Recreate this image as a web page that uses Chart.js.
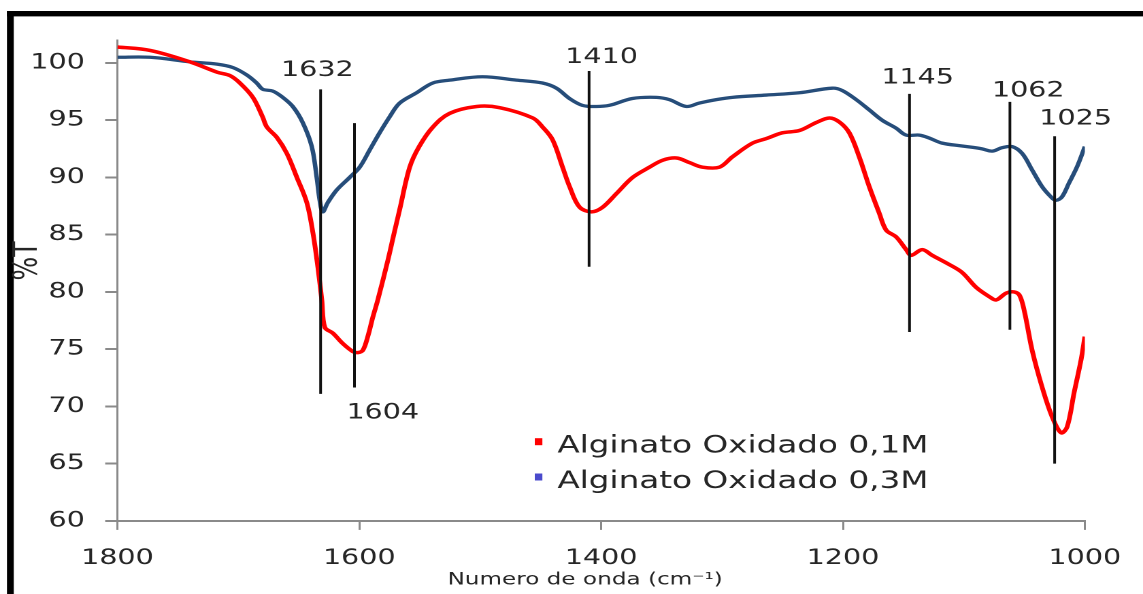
<!DOCTYPE html>
<html>
<head>
<meta charset="utf-8">
<script src="https://cdn.jsdelivr.net/npm/chart.js@4.4.1/dist/chart.umd.min.js"></script>
<style>
  html, body { margin: 0; padding: 0; background: #fff; overflow: hidden; }
  /* the chart is laid out on a narrower canvas and widened to the window */
  #wrap { position: absolute; left: 0; top: 0; width: 840px; height: 594px;
          transform: scaleX(1.360714); transform-origin: 0 0; }
</style>
</head>
<body>
<div id="wrap"><canvas id="c"></canvas></div>
<script>
// FTIR spectra, transmittance (%T) against wavenumber (cm-1)
const seriesNames = ['Alginato Oxidado 0,1M', 'Alginato Oxidado 0,3M'];

const waveRed = [1800, 1773, 1740, 1717.6, 1707, 1698.7, 1688, 1680, 1676.4, 1668.2, 1659.9, 1651.6,
  1643.4, 1638.4, 1634.3, 1631, 1628.5, 1621.9, 1613.7, 1605.4, 1601.2, 1597.1, 1593, 1588.8, 1584.7,
  1576.3, 1571.5, 1566.6, 1558.3, 1550.5, 1539.2, 1525.3, 1502.9, 1483.9, 1456.6, 1448.4, 1440.2,
  1431.9, 1426.1, 1417.8, 1407.9, 1398.8, 1387.3, 1374, 1360, 1349.3, 1337.7, 1327, 1316.2, 1302.2,
  1291.5, 1274.9, 1263.4, 1250.2, 1236.1, 1222.1, 1211.3, 1203.1, 1194.8, 1186.6, 1178.3, 1170.1,
  1164.3, 1156, 1147.8, 1143.6, 1134.5, 1126.3, 1112.2, 1101.5, 1089.9, 1079.2, 1073.4, 1065.1,
  1058.5, 1054, 1050, 1043.6, 1035.4, 1027.1, 1019.7, 1014.7, 1008.9, 1003.1, 1000];
const transRed = [101.4, 101.1, 100.1, 99.2, 98.9, 98.25, 97.0, 95.3, 94.4, 93.5, 92.1, 90.0,
  87.8, 85.2, 82.2, 79.3, 76.9, 76.4, 75.5, 74.8, 74.7, 74.9, 76.1, 77.8, 79.3,
  82.8, 85.0, 87.2, 90.9, 92.7, 94.4, 95.6, 96.2, 96.1, 95.2, 94.4, 93.3,
  90.9, 89.2, 87.4, 87.0, 87.4, 88.6, 90.0, 90.9, 91.5, 91.7, 91.3, 90.9, 90.9,
  91.8, 93.0, 93.4, 93.9, 94.1, 94.8, 95.2, 94.85, 93.9, 91.8, 89.2, 86.9,
  85.4, 84.8, 83.7, 83.2, 83.7, 83.2, 82.4, 81.7, 80.4, 79.6, 79.3, 79.9,
  80.0, 79.7, 78.3, 74.9, 71.7, 69.1, 67.7, 68.2, 71.2, 74.1, 76.1];

const waveBlue = [1800, 1773, 1740, 1717.7, 1704.5, 1693, 1684.8, 1679.8, 1671.6, 1663.3, 1655, 1646.8,
  1639.3, 1635.2, 1632.7, 1630.2, 1626.1, 1618.7, 1608, 1599.7, 1591.4, 1583.2, 1574.9, 1566.6,
  1552.6, 1539.3, 1525.3, 1498.1, 1470, 1448.5, 1437, 1426.2, 1415.5, 1403.9, 1393.2, 1374.2,
  1354.3, 1343.6, 1329.5, 1318.8, 1304.8, 1291.5, 1263.4, 1236.1, 1208.9, 1200.7, 1189.1, 1178.3,
  1167.6, 1156, 1147.8, 1137, 1128.8, 1118, 1101.5, 1085, 1076.7, 1068.5, 1060.2, 1051.9, 1043.6,
  1035.4, 1028, 1023.9, 1019, 1013.2, 1006.6, 1000];
const transBlue = [100.5, 100.5, 100.1, 99.9, 99.6, 98.95, 98.25, 97.7, 97.55, 97.0, 96.2, 94.8,
  92.7, 90.0, 88.0, 87.0, 87.8, 88.9, 90.0, 90.9, 92.4, 93.9, 95.3, 96.5,
  97.4, 98.25, 98.5, 98.8, 98.5, 98.25, 97.8, 96.9, 96.3, 96.2, 96.3, 96.9,
  97.0, 96.8, 96.2, 96.5, 96.8, 97.0, 97.2, 97.4, 97.8, 97.6, 96.8, 95.9,
  95.0, 94.3, 93.7, 93.7, 93.45, 93.0, 92.75, 92.5, 92.3, 92.6, 92.7, 92.1, 90.65,
  89.2, 88.3, 88.0, 88.3, 89.5, 90.9, 92.7];

// marked bands: wavenumber and the %T span of each marker line
const peakWaves  = [1632, 1604, 1410, 1145, 1062, 1025];
const peakTop    = [97.7, 94.75, 99.3, 97.3, 96.6, 93.6];
const peakBottom = [71.1, 71.65, 82.2, 76.5, 76.7, 65.0];

const xTickValues = [1800, 1600, 1400, 1200, 1000];
const yTickValues = [60, 65, 70, 75, 80, 85, 90, 95, 100];

const xTitle = 'Numero de onda (cm\u207B\u00B9)';
const yTitle = '%T';

// ---- styling ----
const FONT = 'DejaVu Sans';
const TEXT = '#262626';
const AXIS = '#8a8a8a';
const lineColors = ['#ff0000', '#264d7a'];
const legendMarkers = ['#ff0000', '#4a4acc'];
// label placement next to each marker line: which end, offset in px
const peakLabelPlace = [
  { end: 'top', dx: -2.4, dy: -20.8 },
  { end: 'bottom', dx: 20.8, dy: 23.2 },
  { end: 'top', dx: 9.2, dy: -15.7 },
  { end: 'top', dx: 6.0, dy: -18.0 },
  { end: 'top', dx: 13.5, dy: -13.2 },
  { end: 'top', dx: 15.4, dy: -19.5 }
];

const toPoints = (xs, ys) => xs.map((x, i) => ({ x: x, y: ys[i] }));

const datasets = [
  { label: seriesNames[0], data: toPoints(waveRed, transRed), borderColor: lineColors[0],
    backgroundColor: lineColors[0], borderWidth: 3.5, pointRadius: 0, tension: 0.35, order: 1 },
  { label: seriesNames[1], data: toPoints(waveBlue, transBlue), borderColor: lineColors[1],
    backgroundColor: lineColors[1], borderWidth: 3.3, pointRadius: 0, tension: 0.35, order: 2 }
];
peakWaves.forEach((w, i) => {
  datasets.push({
    label: String(w), isPeak: true,
    data: [{ x: w, y: peakTop[i] }, { x: w, y: peakBottom[i] }],
    borderColor: '#111', borderWidth: 2, pointRadius: 0, order: 0
  });
});

const decorations = {
  id: 'decorations',
  beforeDraw(chart) {
    const ctx = chart.ctx;
    ctx.save();
    ctx.fillStyle = '#000';
    ctx.fillRect(5.1, 11, 5.0, chart.height);      // left frame edge
    ctx.fillRect(5.1, 11, chart.width, 5.4);       // top frame edge
    ctx.restore();
  },
  afterDatasetsDraw(chart) {
    const ctx = chart.ctx;
    const xs = chart.scales.x, ys = chart.scales.y;
    ctx.save();
    ctx.fillStyle = TEXT;

    // band labels
    ctx.font = '21px "' + FONT + '"';
    ctx.textAlign = 'center';
    ctx.textBaseline = 'alphabetic';
    peakWaves.forEach((w, i) => {
      const p = peakLabelPlace[i];
      const px = xs.getPixelForValue(w) + p.dx;
      const py = ys.getPixelForValue(p.end === 'top' ? peakTop[i] : peakBottom[i]) + p.dy;
      ctx.fillText(String(w), px, py + 7.6);
    });

    // legend
    ctx.font = '24px "' + FONT + '"';
    ctx.textAlign = 'left';
    const rows = [452.7, 488];
    chart.data.datasets.filter(d => !d.isPeak).forEach((d, i) => {
      ctx.fillStyle = legendMarkers[i];
      ctx.fillRect(393, rows[i] - 14.5, 5.6, 7);
      ctx.fillStyle = TEXT;
      ctx.fillText(d.label, 409.6, rows[i]);
    });

    // axis titles
    ctx.font = '17px "' + FONT + '"';
    ctx.textAlign = 'center';
    ctx.textBaseline = 'middle';
    ctx.fillText(xTitle, 430, 580);
    ctx.translate(20.5, 261);
    ctx.rotate(-Math.PI / 2);
    ctx.font = '25px "' + FONT + '"';
    ctx.fillText(yTitle, 0, 0);
    ctx.restore();
  }
};

const plainNumber = v => String(v);

new Chart(document.getElementById('c'), {
  type: 'line',
  data: { datasets: datasets },
  options: {
    responsive: true,
    maintainAspectRatio: false,
    devicePixelRatio: 2,
    animation: false,
    layout: { padding: { left: 0, top: 40.1, right: 41.7, bottom: 0 } },
    plugins: { legend: { display: false }, tooltip: { enabled: false } },
    scales: {
      x: {
        type: 'linear', min: 1000, max: 1800, reverse: true,
        afterBuildTicks: s => { s.ticks = xTickValues.map(v => ({ value: v })); },
        afterFit: s => { s.height = 73.1; },
        ticks: { color: TEXT, font: { family: FONT, size: 21 }, padding: 16, maxRotation: 0,
                 autoSkip: false, callback: plainNumber },
        grid: { drawOnChartArea: false, drawTicks: true, tickLength: 9, color: AXIS, lineWidth: 1.5 },
        border: { display: true, color: AXIS, width: 2 }
      },
      y: {
        type: 'linear', min: 60, max: 102,
        afterBuildTicks: s => { s.ticks = yTickValues.map(v => ({ value: v })); },
        afterFit: s => { s.width = 86.3; },
        ticks: { color: TEXT, font: { family: FONT, size: 21 }, padding: 15, autoSkip: false,
                 callback: plainNumber },
        grid: { drawOnChartArea: false, drawTicks: true, tickLength: 9, color: AXIS, lineWidth: 2 },
        border: { display: true, color: AXIS, width: 1.5 }
      }
    }
  },
  plugins: [decorations]
});
</script>
</body>
</html>
